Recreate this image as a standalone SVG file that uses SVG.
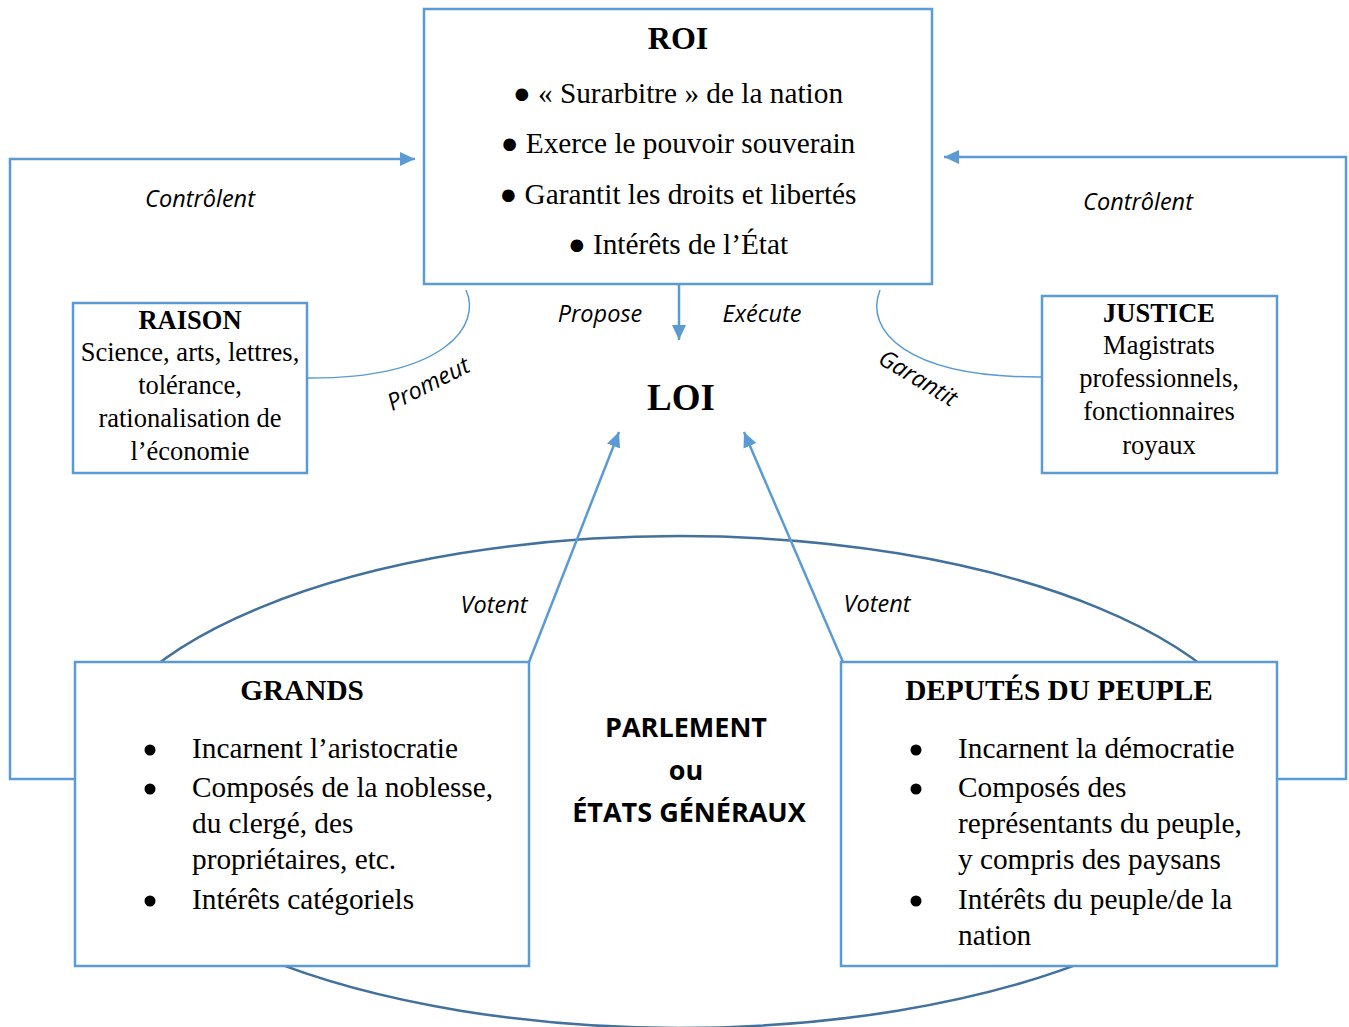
<svg xmlns="http://www.w3.org/2000/svg" width="1349" height="1027" viewBox="0 0 1349 1027">
<style>
.box{fill:#fff;stroke:#5b9bd5;stroke-width:2.5}
.con{fill:none;stroke:#5b9bd5;stroke-width:2.5}
.arc{fill:none;stroke:#5b9bd5;stroke-width:1.5}
.ell{fill:none;stroke:#41719c;stroke-width:2.5}
.t{font-family:"Liberation Serif",serif;font-size:29.3px;fill:#000}
.ts{font-family:"Liberation Serif",serif;font-size:26.5px;fill:#000}
.b{font-weight:bold}
.big{font-size:32px}
.loi{font-size:37px}
.lab{font-family:"Open Sans","Liberation Sans",sans-serif;font-style:italic;font-size:23.5px;fill:#000}
.par{font-family:"Open Sans","Liberation Sans",sans-serif;font-weight:bold;font-size:27px;fill:#000}
</style>
<defs>
<marker id="ah" markerWidth="15" markerHeight="14" refX="15" refY="7" orient="auto" markerUnits="userSpaceOnUse" viewBox="0 0 15 14">
<path d="M0,0 L15,7 L0,14 z" fill="#5b9bd5"/>
</marker>
</defs>
<rect width="1349" height="1027" fill="#fff"/>
<ellipse class="ell" cx="679" cy="782" rx="594" ry="246"/>
<g id="connectors">
<polyline class="con" points="77,779 10,779 10,159 415,159" marker-end="url(#ah)"/>
<polyline class="con" points="1277,779 1346,779 1346,157 944,157" marker-end="url(#ah)"/>
<line class="con" x1="679" y1="284" x2="679" y2="340" marker-end="url(#ah)"/>
<line class="con" x1="529" y1="662" x2="619" y2="432" marker-end="url(#ah)"/>
<line class="con" x1="843" y1="662" x2="744" y2="432" marker-end="url(#ah)"/>
<path class="arc" d="M466,290 C482,325 445,379 307,378"/>
<path class="arc" d="M880,290 C864,330 905,378 1043,377"/>
<text class="lab" x="200" y="207" text-anchor="middle">Contrôlent</text>
<text class="lab" x="1138" y="210" text-anchor="middle">Contrôlent</text>
<text class="lab" x="600" y="322" text-anchor="middle">Propose</text>
<text class="lab" x="762" y="322" text-anchor="middle">Exécute</text>
<text class="lab" x="432" y="391" text-anchor="middle" transform="rotate(-27 432 391)">Promeut</text>
<text class="lab" x="914" y="385" text-anchor="middle" transform="rotate(31 914 385)">Garantit</text>
<text class="lab" x="494" y="613" text-anchor="middle">Votent</text>
<text class="lab" x="877" y="612" text-anchor="middle">Votent</text>
</g>
<g id="roi">
<rect class="box" x="424" y="9" width="508" height="275"/>
<text class="t b big" x="678" y="49" text-anchor="middle">ROI</text>
<text class="t" x="678" y="103" text-anchor="middle">● « Surarbitre » de la nation</text>
<text class="t" x="678" y="153" text-anchor="middle">● Exerce le pouvoir souverain</text>
<text class="t" x="678" y="204" text-anchor="middle">● Garantit les droits et libertés</text>
<text class="t" x="678" y="254" text-anchor="middle">● Intérêts de l’État</text>
</g>
<g id="loi">
<text class="t b loi" x="681" y="410" text-anchor="middle">LOI</text>
</g>
<g id="raison">
<rect class="box" x="73" y="303" width="234" height="170"/>
<text class="ts b" x="190" y="329" text-anchor="middle">RAISON</text>
<text class="ts" x="190" y="361" text-anchor="middle">Science, arts, lettres,</text>
<text class="ts" x="190" y="394" text-anchor="middle">tolérance,</text>
<text class="ts" x="190" y="427" text-anchor="middle">rationalisation de</text>
<text class="ts" x="190" y="460" text-anchor="middle">l’économie</text>
</g>
<g id="justice">
<rect class="box" x="1042" y="296" width="235" height="177"/>
<text class="ts b" x="1159" y="322" text-anchor="middle">JUSTICE</text>
<text class="ts" x="1159" y="354" text-anchor="middle">Magistrats</text>
<text class="ts" x="1159" y="387" text-anchor="middle">professionnels,</text>
<text class="ts" x="1159" y="420" text-anchor="middle">fonctionnaires</text>
<text class="ts" x="1159" y="454" text-anchor="middle">royaux</text>
</g>
<g id="parlement">
<text class="par" x="686" y="737" text-anchor="middle">PARLEMENT</text>
<text class="par" x="686" y="780" text-anchor="middle">ou</text>
<text class="par" x="689" y="822" text-anchor="middle">ÉTATS GÉNÉRAUX</text>
</g>
<g id="grands">
<rect class="box" x="75" y="662" width="454" height="304"/>
<text class="t b" x="302" y="700" text-anchor="middle">GRANDS</text>
<circle cx="150" cy="750" r="5.5"/>
<circle cx="150" cy="789" r="5.5"/>
<circle cx="150" cy="901" r="5.5"/>
<text class="t" x="192" y="758">Incarnent l’aristocratie</text>
<text class="t" x="192" y="797">Composés de la noblesse,</text>
<text class="t" x="192" y="833">du clergé, des</text>
<text class="t" x="192" y="869">propriétaires, etc.</text>
<text class="t" x="192" y="909">Intérêts catégoriels</text>
</g>
<g id="deputes">
<rect class="box" x="841" y="662" width="436" height="304"/>
<text class="t b" x="1059" y="700" text-anchor="middle">DEPUTÉS DU PEUPLE</text>
<circle cx="916" cy="750" r="5.5"/>
<circle cx="916" cy="789" r="5.5"/>
<circle cx="916" cy="901" r="5.5"/>
<text class="t" x="958" y="758">Incarnent la démocratie</text>
<text class="t" x="958" y="797">Composés des</text>
<text class="t" x="958" y="833">représentants du peuple,</text>
<text class="t" x="958" y="869">y compris des paysans</text>
<text class="t" x="958" y="909">Intérêts du peuple/de la</text>
<text class="t" x="958" y="945">nation</text>
</g>
</svg>
